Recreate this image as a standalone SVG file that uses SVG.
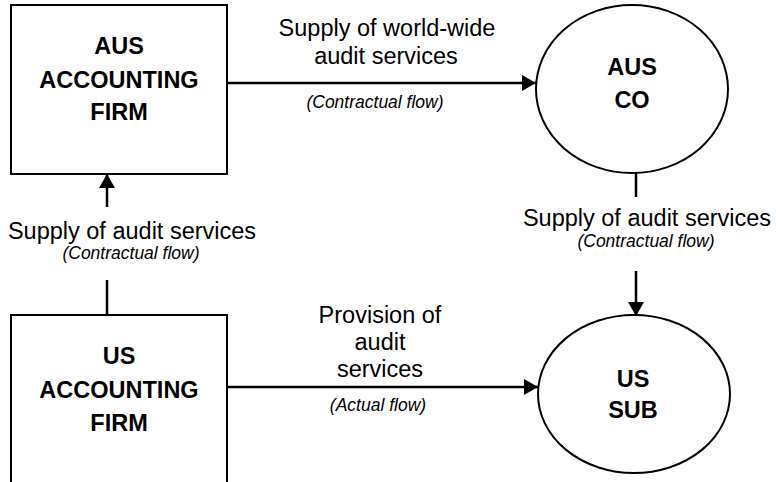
<svg xmlns="http://www.w3.org/2000/svg" width="776" height="482" viewBox="0 0 776 482">
<style>
.shape{fill:#fff;stroke:#000;stroke-width:2}
.b{font-family:"Liberation Sans",Arial,sans-serif;font-weight:bold;font-size:23.5px;text-anchor:middle;fill:#000}
.r{font-family:"Liberation Sans",Arial,sans-serif;font-size:23.5px;text-anchor:middle;fill:#000}
.i{font-family:"Liberation Sans",Arial,sans-serif;font-style:italic;font-size:17.5px;text-anchor:middle;fill:#000}
.ln{stroke:#000;stroke-width:2.5;fill:none}
</style>
<defs>
<marker id="ah" viewBox="0 0 14 16" refX="14" refY="8" markerWidth="14" markerHeight="16" markerUnits="userSpaceOnUse" orient="auto">
<path d="M0,0 L14,8 L0,16 Z" fill="#000"/>
</marker>
</defs>
<rect width="776" height="482" fill="#fff"/>
<g id="connectors">
<line class="ln" x1="227" y1="83" x2="536" y2="83" marker-end="url(#ah)"/>
<line class="ln" x1="227" y1="387" x2="538" y2="387" marker-end="url(#ah)"/>
<line class="ln" x1="107" y1="207" x2="107" y2="174" marker-end="url(#ah)"/>
<line class="ln" x1="107" y1="280" x2="107" y2="315"/>
<line class="ln" x1="636" y1="173" x2="636" y2="197"/>
<line class="ln" x1="636" y1="271" x2="636" y2="316" marker-end="url(#ah)"/>
<text class="r" x="387" y="36">Supply of world-wide</text>
<text class="r" x="386" y="64">audit services</text>
<text class="i" x="375" y="108">(Contractual flow)</text>
<text class="r" x="132" y="239">Supply of audit services</text>
<text class="i" x="131" y="259">(Contractual flow)</text>
<text class="r" x="647" y="226">Supply of audit services</text>
<text class="i" x="646" y="247">(Contractual flow)</text>
<text class="r" x="380" y="323">Provision of</text>
<text class="r" x="380" y="350">audit</text>
<text class="r" x="380" y="377">services</text>
<text class="i" x="378" y="411">(Actual flow)</text>
</g>
<g id="aus-firm">
<rect class="shape" x="11" y="5" width="216" height="169"/>
<text class="b" x="119" y="54">AUS</text>
<text class="b" x="119" y="88">ACCOUNTING</text>
<text class="b" x="119" y="120">FIRM</text>
</g>
<g id="aus-co">
<ellipse class="shape" cx="632" cy="89" rx="96" ry="84"/>
<text class="b" x="632" y="75">AUS</text>
<text class="b" x="632" y="108">CO</text>
</g>
<g id="us-firm">
<rect class="shape" x="11" y="315" width="216" height="180"/>
<text class="b" x="119" y="364">US</text>
<text class="b" x="119" y="398">ACCOUNTING</text>
<text class="b" x="119" y="431">FIRM</text>
</g>
<g id="us-sub">
<ellipse class="shape" cx="634" cy="394" rx="96" ry="79"/>
<text class="b" x="633" y="387">US</text>
<text class="b" x="633" y="418">SUB</text>
</g>
</svg>
